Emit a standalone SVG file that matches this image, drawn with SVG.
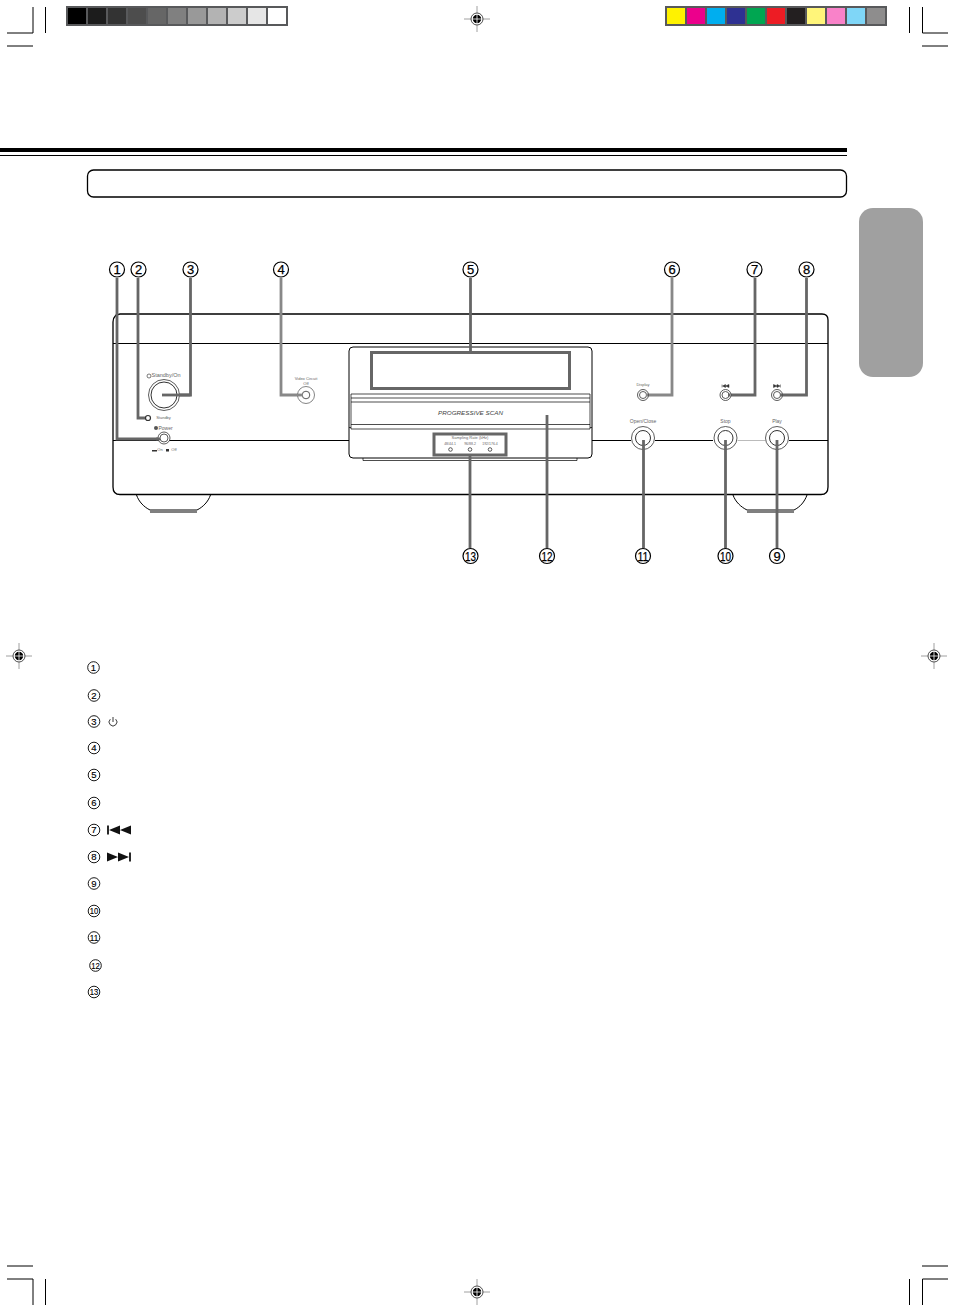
<svg xmlns="http://www.w3.org/2000/svg" xmlns:xlink="http://www.w3.org/1999/xlink" width="954" height="1313" viewBox="0 0 954 1313">
<style>
text{font-family:"Liberation Sans",Arial,sans-serif;fill:#444}
.crop{stroke:#000;stroke-width:1;fill:none}
.edge{stroke:#000;stroke-width:1.300;fill:none}
.thin{stroke:#000;stroke-width:.7;fill:none}
.lead{stroke:#666;stroke-width:2.800;fill:none}
.leadl{stroke:#888;stroke-width:2.800;fill:none}
.box{stroke:#666;stroke-width:3;fill:none}
.btn{stroke:#333;stroke-width:.8;fill:#fff}
.num{stroke:#000;stroke-width:1.200;fill:#fff}
.numt{font-size:13px;fill:#000;text-anchor:middle;stroke:#000;stroke-width:.25}
.nums{stroke:#000;stroke-width:.9;fill:#fff}
.numts{font-size:9.500px;fill:#000;text-anchor:middle;stroke:#000;stroke-width:.15}
.lab{text-anchor:middle;fill:#666}
.cell{stroke:#58595b;stroke-width:2}
</style>
<defs>
<g id="reg">
<path d="M-13 0H13M0-13V13" stroke="#888" stroke-width=".8"/>
<circle r="6" fill="#fff" stroke="#222" stroke-width=".8"/>
<circle r="4.200" fill="#000"/>
<path d="M-5 0H5M0-5V5" stroke="#fff" stroke-width=".8"/>
</g>
</defs>

<g id="printer-marks">
<path class="crop" d="M7 33H33V7M45.500 7V33M7 46H33"/>
<path class="crop" d="M948 33H922.500V7M909.500 7V33M922 46H948"/>
<path class="crop" d="M7 1279H33V1305M45.500 1279V1305M7 1266H33"/>
<path class="crop" d="M948 1279H922.500V1305M909.500 1279V1305M922 1266H948"/>
<use xlink:href="#reg" href="#reg" x="477" y="19"/>
<use xlink:href="#reg" href="#reg" x="19" y="656"/>
<use xlink:href="#reg" href="#reg" x="934" y="656"/>
<use xlink:href="#reg" href="#reg" x="477" y="1292"/>
<g id="gray-bar" class="cell">
<rect x="67" y="7" width="20" height="18" fill="#000"/>
<rect x="87" y="7" width="20" height="18" fill="#1c1c1c"/>
<rect x="107" y="7" width="20" height="18" fill="#333"/>
<rect x="127" y="7" width="20" height="18" fill="#4d4d4d"/>
<rect x="147" y="7" width="20" height="18" fill="#666"/>
<rect x="167" y="7" width="20" height="18" fill="#808080"/>
<rect x="187" y="7" width="20" height="18" fill="#999"/>
<rect x="207" y="7" width="20" height="18" fill="#b3b3b3"/>
<rect x="227" y="7" width="20" height="18" fill="#ccc"/>
<rect x="247" y="7" width="20" height="18" fill="#e6e6e6"/>
<rect x="267" y="7" width="20" height="18" fill="#fff"/>
</g>
<g id="colour-bar" class="cell">
<rect x="666" y="7" width="20" height="18" fill="#fff200"/>
<rect x="686" y="7" width="20" height="18" fill="#ec008c"/>
<rect x="706" y="7" width="20" height="18" fill="#00aeef"/>
<rect x="726" y="7" width="20" height="18" fill="#2e3192"/>
<rect x="746" y="7" width="20" height="18" fill="#00a651"/>
<rect x="766" y="7" width="20" height="18" fill="#ed1c24"/>
<rect x="786" y="7" width="20" height="18" fill="#231f20"/>
<rect x="806" y="7" width="20" height="18" fill="#fff57a"/>
<rect x="826" y="7" width="20" height="18" fill="#f982c9"/>
<rect x="846" y="7" width="20" height="18" fill="#7fd6f7"/>
<rect x="866" y="7" width="20" height="18" fill="#8e8d8d"/>
</g>
</g>

<g id="page-header">
<rect x="0" y="148" width="847" height="4" fill="#000"/>
<rect x="0" y="155" width="847" height="1" fill="#000"/>
<rect x="87.500" y="170" width="759" height="27" rx="6" fill="#fff" stroke="#000" stroke-width="1.300"/>
<rect x="859" y="208" width="64" height="169" rx="14" fill="#a0a0a0"/>
</g>

<g id="device">
<path class="edge" d="M120 314H822Q828 314 828 320V487Q828 494.500 821 494.500H120Q113 494.500 113 487V322Q113 318 116 315Z" fill="#fff"/>
<path class="thin" style="stroke-width:1" d="M113 343.500H828M113 440.500H349M592 440.500H631M655 440.500H713M789 440.500H828"/>
<path d="M737.500 440.500H765.500" stroke="#bbb" stroke-width="1" fill="none"/>
<path class="thin" style="stroke-width:1" d="M136.500 495C139 502 144 507 150 510H197C203 507 208 502 210.500 495M150 512H197"/>
<path class="thin" style="stroke-width:1" d="M733 495C735.500 502 741 507 747 510H794C800 507 804.500 502 807 495M747 512H794"/>
</g>

<g id="tray">
<path class="thin" style="stroke-width:1" d="M353 347H588Q592 347 592 351V454Q592 458 588 458H353Q349 458 349 454V351Q349 347 353 347Z" fill="#fff"/>
<path class="thin" d="M351 394H590V429H351ZM351 398H590M351 402H590M351 424.500H590M349 427.500H351M590 427.500H592M363 458V460.500H577V458"/>
<text x="470.500" y="415" font-size="6" font-style="italic" text-anchor="middle" fill="#666" textLength="65" lengthAdjust="spacingAndGlyphs">PROGRESSIVE SCAN</text>
<text class="lab" x="470" y="439" font-size="4">Sampling Rate (kHz)</text>
<text class="lab" x="450" y="445" font-size="3.500">48/44.1</text>
<text class="lab" x="470" y="445" font-size="3.500">96/88.2</text>
<text class="lab" x="490" y="445" font-size="3.500">192/176.4</text>
<circle class="btn" cx="450.500" cy="449.500" r="1.800"/>
<circle class="btn" cx="470" cy="449.500" r="1.800"/>
<circle class="btn" cx="490" cy="449.500" r="1.800"/>
</g>

<g id="connectors">
<path class="lead" d="M117 278V439H158"/>
<path class="lead" d="M138 278V418H146"/>
<path class="lead" d="M190.500 278V395H162"/>
<path class="leadl" d="M281 278V395H303"/>
<path class="lead" d="M470.500 278V352"/>
<path class="leadl" d="M672 278V395H647"/>
<path class="lead" d="M755 278V395H729"/>
<path class="lead" d="M806.500 278V395H781"/>
<path class="lead" d="M777 440V548"/>
<path class="lead" d="M725.500 440V548"/>
<path class="lead" d="M643.500 440V548"/>
<path class="lead" d="M547 415V548"/>
<path class="lead" d="M470 455V548"/>
</g>

<g id="control-1-power">
<circle class="btn" cx="164" cy="438" r="6"/><circle class="btn" cx="164" cy="438" r="4"/>
<path class="lead" d="M156 439H160"/>
<circle cx="156" cy="428" r="2" fill="#555"/>
<text class="lab" x="165.500" y="430" font-size="5">Power</text>
<text class="lab" x="160" y="451" font-size="4">On</text>
<text class="lab" x="174" y="451" font-size="4">Off</text>
<rect x="152" y="450" width="5" height="1.500" fill="#333"/><rect x="166" y="449" width="3" height="2.500" fill="#333"/>
</g>
<g id="control-2-standby">
<circle class="btn" style="stroke-width:1.200" cx="148" cy="418" r="2.500"/>
<text class="lab" x="163.500" y="419" font-size="4">Standby</text>
</g>
<g id="control-3-standby-on">
<circle class="btn" cx="164" cy="395" r="15.500"/><circle class="btn" style="stroke-width:1" cx="164" cy="395" r="13"/>
<path d="M190.500 395H162" class="lead"/>
<circle cx="149" cy="376" r="2" fill="none" stroke="#444" stroke-width=".7"/>
<text class="lab" x="166" y="377" font-size="5.500">Standby/On</text>
</g>
<g id="control-4-video">
<circle class="btn" style="stroke-width:.6" cx="306" cy="395" r="8.500"/><circle class="btn" cx="306" cy="395" r="3.800"/>
<path class="leadl" d="M297 395H303"/>
<text class="lab" x="306" y="380" font-size="4">Video Circuit</text>
<text class="lab" x="306" y="385" font-size="4">Off</text>
</g>
<g id="control-5-display-window">
<rect class="box" x="371.500" y="352.500" width="198" height="36"/>
</g>
<g id="control-6-display">
<circle class="btn" cx="643" cy="395" r="5.500"/><circle class="btn" cx="643" cy="395" r="3.500"/>
<path class="leadl" d="M648 395H646"/>
<text class="lab" x="643" y="386" font-size="4">Display</text>
</g>
<g id="control-7-prev">
<circle class="btn" cx="725.500" cy="395" r="5.500"/><circle class="btn" cx="725.500" cy="395" r="3.500"/>
<path class="lead" d="M730 395H728"/>
<path d="M722 384.500V387.500M722.500 386L725.500 384.500V387.500ZM725.500 386L729 384.500V387.500Z" stroke="#333" stroke-width=".5" fill="#333"/>
</g>
<g id="control-8-next">
<circle class="btn" cx="777" cy="395" r="5.500"/><circle class="btn" cx="777" cy="395" r="3.500"/>
<path class="lead" d="M782 395H780"/>
<path d="M780.500 384.500V387.500M780 386L777 384.500V387.500ZM777 386L773.500 384.500V387.500Z" stroke="#333" stroke-width=".5" fill="#333"/>
</g>
<g id="control-9-play">
<circle class="btn" cx="777" cy="438" r="11.500"/><circle class="btn" style="stroke-width:1" cx="777" cy="438" r="7.500"/>
<path class="lead" d="M777 440V450"/>
<text class="lab" x="777" y="423" font-size="5">Play</text>
</g>
<g id="control-10-stop">
<circle class="btn" cx="725.500" cy="438" r="11.500"/><circle class="btn" style="stroke-width:1" cx="725.500" cy="438" r="7.500"/>
<path class="lead" d="M725.500 440V450"/>
<text class="lab" x="725.500" y="423" font-size="5">Stop</text>
</g>
<g id="control-11-open-close">
<circle class="btn" cx="643" cy="438" r="11.500"/><circle class="btn" style="stroke-width:1" cx="643" cy="438" r="7.500"/>
<path class="lead" d="M643.500 440V450"/>
<text class="lab" x="643" y="423" font-size="5">Open/Close</text>
</g>
<g id="control-13-sampling-rate">
<rect class="box" x="434" y="434" width="72" height="21"/>
</g>

<g id="callouts">
<circle class="num" cx="117" cy="269.500" r="7.500"/><text class="numt" x="117" y="274">1</text>
<circle class="num" cx="138.500" cy="269.500" r="7.500"/><text class="numt" x="138.500" y="274">2</text>
<circle class="num" cx="190.500" cy="269.500" r="7.500"/><text class="numt" x="190.500" y="274">3</text>
<circle class="num" cx="281" cy="269.500" r="7.500"/><text class="numt" x="281" y="274">4</text>
<circle class="num" cx="470.500" cy="269.500" r="7.500"/><text class="numt" x="470.500" y="274">5</text>
<circle class="num" cx="672" cy="269.500" r="7.500"/><text class="numt" x="672" y="274">6</text>
<circle class="num" cx="754.500" cy="269.500" r="7.500"/><text class="numt" x="754.500" y="274">7</text>
<circle class="num" cx="806.500" cy="269.500" r="7.500"/><text class="numt" x="806.500" y="274">8</text>
<circle class="num" cx="777" cy="556" r="7.500"/><text class="numt" x="777" y="560.500">9</text>
<circle class="num" cx="725.500" cy="556" r="7.500"/><text class="numt" x="725.500" y="560.500" textLength="11" lengthAdjust="spacingAndGlyphs">10</text>
<circle class="num" cx="643" cy="556" r="7.500"/><text class="numt" x="643" y="560.500" textLength="11" lengthAdjust="spacingAndGlyphs">11</text>
<circle class="num" cx="547" cy="556" r="7.500"/><text class="numt" x="547" y="560.500" textLength="11" lengthAdjust="spacingAndGlyphs">12</text>
<circle class="num" cx="470.500" cy="556" r="7.500"/><text class="numt" x="470.500" y="560.500" textLength="11" lengthAdjust="spacingAndGlyphs">13</text>
</g>

<g id="legend">
<circle class="nums" cx="93.500" cy="667.500" r="5.800"/><text class="numts" x="93.500" y="670.800">1</text>
<circle class="nums" cx="94" cy="695.500" r="5.800"/><text class="numts" x="94" y="698.800">2</text>
<circle class="nums" cx="94" cy="721.500" r="5.800"/><text class="numts" x="94" y="724.800">3</text>
<circle class="nums" cx="94" cy="748" r="5.800"/><text class="numts" x="94" y="751.300">4</text>
<circle class="nums" cx="94" cy="775" r="5.800"/><text class="numts" x="94" y="778.300">5</text>
<circle class="nums" cx="94" cy="803" r="5.800"/><text class="numts" x="94" y="806.300">6</text>
<circle class="nums" cx="94" cy="830" r="5.800"/><text class="numts" x="94" y="833.300">7</text>
<circle class="nums" cx="94" cy="857" r="5.800"/><text class="numts" x="94" y="860.300">8</text>
<circle class="nums" cx="94" cy="883.500" r="5.800"/><text class="numts" x="94" y="886.800">9</text>
<circle class="nums" cx="94" cy="911" r="5.800"/><text class="numts" x="94" y="914.300" textLength="8.500" lengthAdjust="spacingAndGlyphs">10</text>
<circle class="nums" cx="94" cy="937.500" r="5.800"/><text class="numts" x="94" y="940.800" textLength="8.500" lengthAdjust="spacingAndGlyphs">11</text>
<circle class="nums" cx="95.500" cy="965.500" r="5.800"/><text class="numts" x="95.500" y="968.800" textLength="8.500" lengthAdjust="spacingAndGlyphs">12</text>
<circle class="nums" cx="94" cy="992" r="5.800"/><text class="numts" x="94" y="995.300" textLength="8.500" lengthAdjust="spacingAndGlyphs">13</text>
<path d="M110.300 719.200A3.900 3.900 0 1 0 115.700 719.200M113 717V722" fill="none" stroke="#222" stroke-width=".9"/>
<path d="M108 825.500V834.500" stroke="#111" stroke-width="1.800"/>
<path d="M109 830L120 825.500V834.500ZM120 830L131 825.500V834.500Z" fill="#111"/>
<path d="M130 852.500V861.500" stroke="#111" stroke-width="1.800"/>
<path d="M129 857L118 852.500V861.500ZM118 857L107 852.500V861.500Z" fill="#111"/>
</g>
</svg>
